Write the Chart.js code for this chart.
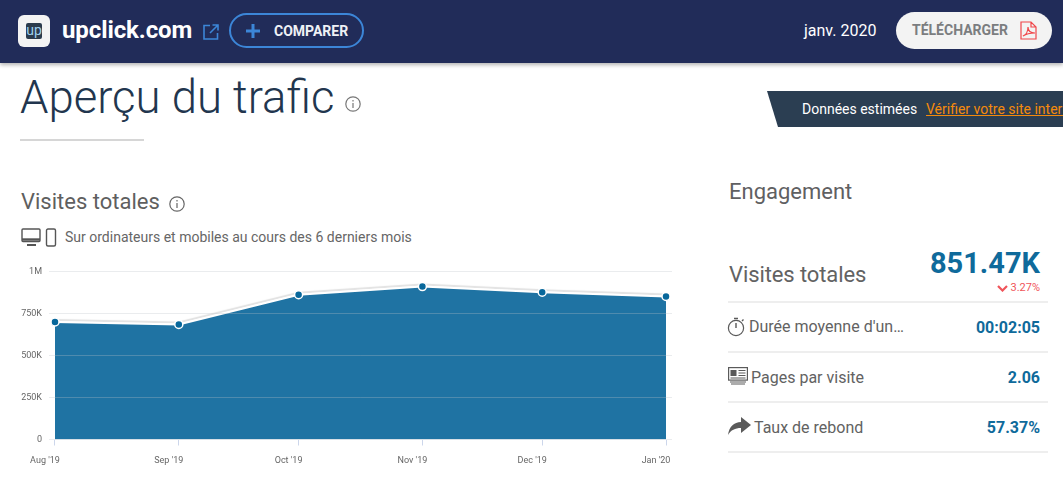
<!DOCTYPE html>
<html lang="fr">
<head>
<meta charset="utf-8">
<title>Aperçu du trafic</title>
<script src="https://cdn.jsdelivr.net/npm/chart.js@4"></script>
<style>
    html, body { margin: 0; padding: 0; background: #fff; overflow: hidden; }
    body { width: 1063px; height: 483px; position: relative; font-family: Roboto, sans-serif; color: #5f6062; }
    .abs { position: absolute; white-space: nowrap; line-height: 1; }
    #header { position: absolute; left: 0; top: 0; width: 1063px; height: 63px; background: #212c59; box-shadow: 0 2px 4px rgba(0,0,0,.3); }
    #logo { position: absolute; left: 18px; top: 15px; width: 32px; height: 32px; background: #f3f3f3; border-radius: 6px; }
    #logoInner { position: absolute; left: 8px; top: 8px; width: 16px; height: 16px; background: #2b3b4d; border-radius: 2px; color: #9fd0ee; font-size: 14px; line-height: 14px; text-align: center; }
    #compareBtn { position: absolute; left: 229px; top: 13px; width: 131px; height: 31px; border: 2px solid #3c86d8; border-radius: 18px; }
    #downloadBtn { position: absolute; left: 896px; top: 12px; width: 156px; height: 37px; background: #f3f3f3; border-radius: 19px; }
    #banner { position: absolute; left: 767px; top: 91px; width: 296px; height: 36px; background: #2b3e52; clip-path: polygon(0 0, 100% 0, 100% 100%, 11px 100%); }
    .rule { position: absolute; left: 728px; width: 320px; height: 2px; background: #eeeeee; }
    .rowLabel { font-size: 16px; color: #626262; }
    .rowValue { font-size: 16px; font-weight: 700; color: #0f6a9b; right: 23px; }
    #chartBox { position: absolute; left: 0; top: 255px; width: 700px; height: 228px; }
</style>
</head>
<body>
<div id="header">
    <div id="logo"><div id="logoInner">up</div></div>
    <div class="abs" style="left:62px;top:18px;font-size:24px;font-weight:700;color:#fff;letter-spacing:-.1px;">upclick.com</div>
    <svg class="abs" style="left:203px;top:24px" width="16" height="16" viewBox="0 0 16 16" fill="none" stroke="#3c86d8" stroke-width="1.6">
        <path d="M7 1.5H1v13.5h13.5V9M9.5 1h5.5v5.5M15 1L7 9"/>
    </svg>
    <div id="compareBtn"></div>
    <svg class="abs" style="left:246px;top:24px" width="14" height="14" viewBox="0 0 14 14" stroke="#3c86d8" stroke-width="3">
        <path d="M7 0v14M0 7h14"/>
    </svg>
    <div class="abs" style="left:274px;top:24px;font-size:14px;font-weight:700;color:#eef1f6;">COMPARER</div>
    <div class="abs" style="left:804px;top:23px;font-size:16px;color:#fff;">janv. 2020</div>
    <div id="downloadBtn"></div>
    <div class="abs" style="left:912px;top:23px;font-size:14px;font-weight:700;color:#7b7d80;">TÉLÉCHARGER</div>
    <svg class="abs" style="left:1020px;top:21px" width="17" height="19" viewBox="0 0 17 19" fill="none" stroke="#f0474b" stroke-width="1.2">
        <path d="M1 1h10l5 5v12H1zM11 1v5h5M3 15c3-1 5-5 5-9 0 4 3 6 7 6-4 0-9 1-12 3z"/>
    </svg>
</div>

<div class="abs" style="left:20px;top:75px;font-size:45.5px;font-weight:300;color:#22364e;">Aperçu du trafic</div>
<svg class="abs" style="left:345px;top:96px" width="16" height="16" viewBox="0 0 16 16" fill="none" stroke="#777" stroke-width="1.2">
    <circle cx="8" cy="8" r="7.2"/><path d="M8 7v5M8 4v1.6"/>
</svg>
<div style="position:absolute;left:20px;top:139px;width:124px;height:2px;background:#d6d6d6"></div>

<div id="banner"></div>
<div class="abs" style="left:802px;top:102px;font-size:14px;color:#fff;">Données estimées</div>
<div class="abs" style="left:926px;top:102px;width:137px;overflow:hidden;font-size:14px;color:#f58a0b;text-decoration:underline;">Vérifier votre site internet</div>

<div class="abs" style="left:21px;top:191px;font-size:22px;color:#5f5f5f;">Visites totales</div>
<svg class="abs" style="left:169px;top:196px" width="16" height="16" viewBox="0 0 16 16" fill="none" stroke="#666" stroke-width="1.2">
    <circle cx="8" cy="8" r="7.2"/><path d="M8 7v5M8 4v1.6"/>
</svg>
<svg class="abs" style="left:21px;top:228px" width="37" height="19" viewBox="0 0 37 19" fill="none" stroke="#555" stroke-width="1.4">
    <rect x="1" y="1" width="18" height="12.5" rx="1"/><path d="M1 11.5h18" stroke-width="2.4"/><path d="M6 17h9" stroke-width="2"/>
    <rect x="25.500" y="1" width="9" height="17" rx="1.500"/>
</svg>
<div class="abs" style="left:65px;top:230px;font-size:14px;color:#666;">Sur ordinateurs et mobiles au cours des 6 derniers mois</div>

<div id="chartBox"><canvas id="visitsChart" width="700" height="228"></canvas></div>

<div class="abs" style="left:729px;top:181px;font-size:22px;color:#5f6062;">Engagement</div>
<div class="abs" style="left:729px;top:264px;font-size:22px;color:#626262;letter-spacing:-.1px;">Visites totales</div>
<div class="abs" style="right:23px;top:249px;font-size:29px;font-weight:700;color:#0f6a9b;">851.47K</div>
<svg class="abs" style="left:997px;top:285px" width="11" height="7" viewBox="0 0 11 7" fill="none" stroke="#f0545a" stroke-width="2.2">
    <path d="M1 1l4.500 4.500L10 1"/>
</svg>
<div class="abs" style="right:23px;top:282px;font-size:11px;color:#f0545a;">3.27%</div>
<div class="rule" style="top:301px"></div>

<svg class="abs" style="left:727px;top:317px" width="19" height="20" viewBox="0 0 19 20" fill="none" stroke="#5a5a5a" stroke-width="1.2">
    <circle cx="9" cy="11" r="7.600"/><path d="M9 11V6M7 1.500h4M15 4l1.500-1.500" stroke-width="1.400"/>
</svg>
<div class="abs rowLabel" style="left:749px;top:319px;">Durée moyenne d'un…</div>
<div class="abs rowValue" style="top:320px;">00:02:05</div>
<div class="rule" style="top:351px"></div>

<svg class="abs" style="left:728px;top:367px" width="20" height="18" viewBox="0 0 20 18" fill="none" stroke="#5a5a5a" stroke-width="1.2">
    <rect x=".6" y=".6" width="18.800" height="12.500"/><rect x="2.500" y="3" width="6" height="6" fill="#5a5a5a" stroke="none"/>
    <path d="M10.500 3.500h7M10.500 6h7M10.500 8.500h7M2.500 11h15M2 15h16M3 17h14"/>
</svg>
<div class="abs rowLabel" style="left:751px;top:370px;">Pages par visite</div>
<div class="abs rowValue" style="top:370px;">2.06</div>
<div class="rule" style="top:401px"></div>

<svg class="abs" style="left:728px;top:417px" width="23" height="18" viewBox="0 0 23 18">
    <path d="M13 0l10 8-10 8v-5C7 11 3 13 0 18 1 10 6 5 13 5z" fill="#5a5a5a"/>
</svg>
<div class="abs rowLabel" style="left:754px;top:420px;">Taux de rebond</div>
<div class="abs rowValue" style="top:420px;">57.37%</div>
<div class="rule" style="top:451px"></div>

<script>
// Values
const monthLabels = ["Aug '19", "Sep '19", "Oct '19", "Nov '19", "Dec '19", "Jan '20"];
const monthDays = [0, 31, 61, 92, 122, 153]; // days since Aug 1, the axis is time based
const visits = [700000, 685000, 862000, 910000, 877000, 851470];
const yTickValues = [0, 250000, 500000, 750000, 1000000];
const yTickLabels = ['0', '250K', '500K', '750K', '1M'];

// Grey ghost line above the white one, only on the area dataset
const lineShadow = {
    id: 'lineShadow',
    beforeDatasetDraw(chart, args) {
        if (args.index !== 1) return;
        const ctx = chart.ctx;
        ctx.shadowColor = 'rgba(0,0,0,0.12)';
        ctx.shadowOffsetY = -2;
        ctx.shadowBlur = 1;
    },
    afterDatasetDraw(chart) {
        const ctx = chart.ctx;
        ctx.shadowColor = 'transparent';
        ctx.shadowOffsetY = 0;
        ctx.shadowBlur = 0;
    }
};

const points = monthDays.map((d, i) => ({ x: d, y: visits[i] }));

new Chart(document.getElementById('visitsChart').getContext('2d'), {
    type: 'line',
    data: {
        datasets: [{
            // markers, on top
            data: points,
            showLine: false,
            pointRadius: 4,
            pointBorderWidth: 1.5,
            pointBackgroundColor: '#07679b',
            pointBorderColor: '#ffffff'
        }, {
            // area and white line
            data: points,
            borderColor: '#ffffff',
            borderWidth: 2,
            backgroundColor: '#1f73a3',
            fill: 'origin',
            tension: 0,
            pointRadius: 0
        }]
    },
    options: {
        responsive: false,
        animation: false,
        layout: { padding: { top: 16.5, right: 28, left: 0, bottom: 0 } },
        plugins: { legend: { display: false }, tooltip: { enabled: false } },
        scales: {
            x: {
                type: 'linear',
                min: -1.5,
                max: 154.5,
                afterBuildTicks: axis => { axis.ticks = monthDays.map(d => ({ value: d })); },
                afterFit: axis => { axis.height = 43.5; },
                border: { display: false },
                grid: { drawOnChartArea: false, color: '#ccd6eb', tickLength: 6 },
                ticks: {
                    autoSkip: false,
                    maxRotation: 0,
                    padding: 10,
                    labelOffset: -10,
                    color: '#666666',
                    font: { family: 'Roboto', size: 9 },
                    callback: value => monthLabels[monthDays.indexOf(value)]
                }
            },
            y: {
                min: 0,
                max: 1000000,
                afterBuildTicks: axis => { axis.ticks = yTickValues.map(v => ({ value: v })); },
                afterFit: axis => { axis.width = 49; },
                border: { display: false },
                grid: { color: 'rgba(187,195,200,0.31)', lineWidth: 1, drawTicks: false, z: 1 },
                ticks: {
                    padding: 7,
                    color: '#666666',
                    font: { family: 'Roboto', size: 9 },
                    callback: value => yTickLabels[yTickValues.indexOf(value)]
                }
            }
        }
    },
    plugins: [lineShadow]
});
</script>
</body>
</html>
